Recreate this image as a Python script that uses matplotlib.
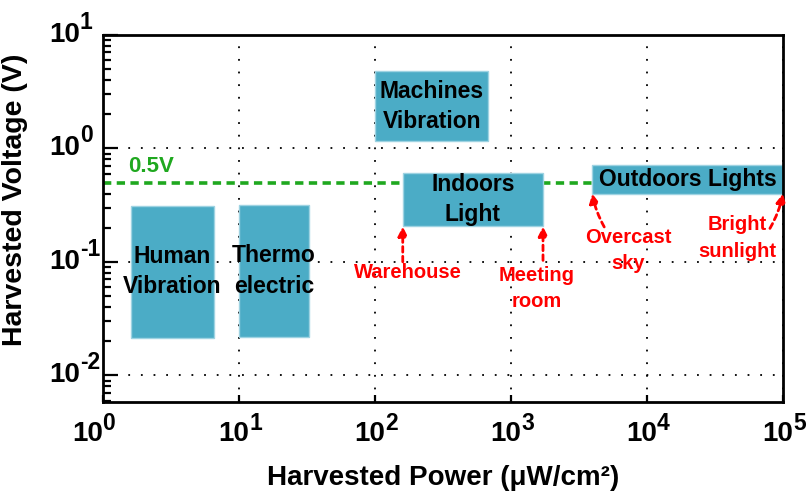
import matplotlib
matplotlib.use("Agg")
import matplotlib.pyplot as plt
from matplotlib.patches import Rectangle
from matplotlib.ticker import FixedLocator, LogLocator, NullFormatter
import numpy as np

plt.rcParams['font.family'] = ['Liberation Sans', 'DejaVu Sans']
plt.rcParams['font.weight'] = 'bold'

# Energy-harvesting sources: (label, power range µW/cm², voltage range V)
source_names = ["Human\nVibration", "Thermo\nelectric", "Machines\nVibration",
                "Indoors\nLight", "Outdoors Lights"]
power_lo = [1.6, 10.0, 100.0, 160.0, 3960.0]
power_hi = [6.5, 32.5, 680.0, 1720.0, 1.0e5]
volt_lo = [0.0215, 0.0217, 1.15, 0.205, 0.40]
volt_hi = [0.313, 0.319, 4.8, 0.605, 0.713]

# Reference voltage line
ref_voltage = 0.5
ref_label = "0.5V"

# Annotated operating conditions: (text, text pos, arrow tail, arrow tip)
cond_text = ["Warehouse", "Meeting\nroom", "Overcast\nsky", "Bright\nsunlight"]
cond_text_xy = [(175, 0.081), (1550, 0.0584), (7240, 0.126), (45900, 0.163)]
cond_tail_xy = [(160, 0.100), (1720, 0.103), (4850, 0.203), (80200, 0.197)]
cond_tip_xy = [(160, 0.205), (1720, 0.205), (3960, 0.40), (1.0e5, 0.40)]
cond_rad = [0.0, 0.0, -0.08, 0.08]

x_decades = [0, 1, 2, 3, 4, 5]
y_decades = [-2, -1, 0, 1]

box_color = "#4BACC6"
green = "#1FA81F"
red = "#FF0000"

fig = plt.figure(figsize=(8.08, 4.91), dpi=100)
ax = fig.add_axes([0.1275, 0.181, 0.8415, 0.748])
ax.set_xscale('log')
ax.set_yscale('log')
ax.set_xlim(1, 1e5)
ax.set_ylim(10 ** -2.236, 10)

# Grid at decades only, dotted
ax.xaxis.set_major_locator(FixedLocator([10.0 ** d for d in x_decades]))
ax.yaxis.set_major_locator(FixedLocator([10.0 ** d for d in y_decades]))
ax.xaxis.set_minor_locator(FixedLocator([]))
ax.yaxis.set_minor_locator(LogLocator(base=10, subs=np.arange(2, 10)))
ax.xaxis.set_major_formatter(NullFormatter())
ax.yaxis.set_major_formatter(NullFormatter())
ax.yaxis.set_minor_formatter(NullFormatter())
ax.grid(True, which='major', color='black', linestyle=(0, (1, 6)), linewidth=1.3)
ax.set_axisbelow(True)

for s in ax.spines.values():
    s.set_linewidth(2)
ax.tick_params(axis='x', which='major', direction='in', length=5, width=1.6,
               bottom=True, top=False)
ax.tick_params(axis='y', which='major', direction='in', length=11, width=1.6,
               left=True, right=False)
ax.tick_params(axis='y', which='minor', direction='in', length=6, width=1.6,
               left=True, right=False)

# Tick labels drawn as "10" with a raised exponent
tick_fs = 20
exp_fs = 16.5
for d in x_decades:
    xoff = 0 if d == x_decades[0] else 7.5
    ax.annotate("10", xy=(10.0 ** d, 0), xycoords=('data', 'axes fraction'),
                xytext=(xoff, -23), textcoords='offset points',
                ha='right', va='center', fontsize=tick_fs, fontweight='bold',
                annotation_clip=False)
    ax.annotate(str(d), xy=(10.0 ** d, 0), xycoords=('data', 'axes fraction'),
                xytext=(xoff - 0.3, -15.5), textcoords='offset points',
                ha='left', va='center', fontsize=exp_fs, fontweight='bold',
                annotation_clip=False)
for d in y_decades:
    ax.annotate("10", xy=(0, 10.0 ** d), xycoords=('axes fraction', 'data'),
                xytext=(-16.5, 0), textcoords='offset points',
                ha='right', va='center', fontsize=tick_fs, fontweight='bold',
                annotation_clip=False)
    ax.annotate(str(d).replace('-', '\u2010'), xy=(0, 10.0 ** d),
                xycoords=('axes fraction', 'data'),
                xytext=(-16.8, 9), textcoords='offset points',
                ha='left', va='center', fontsize=exp_fs, fontweight='bold',
                annotation_clip=False)

ax.set_xlabel("Harvested Power (\u03bcW/cm\u00b2)", fontsize=20, fontweight='bold')
ax.set_ylabel("Harvested Voltage (V)", fontsize=20.5, fontweight='bold')
ax.xaxis.set_label_coords(0.50, -0.17)
ax.yaxis.set_label_coords(-0.11, 0.55)

# 0.5 V reference line
ax.axhline(ref_voltage, color=green, linestyle=(0, (2.3, 1.5)), linewidth=2.6,
           zorder=1.5)
ax.text(2.25, 0.694, ref_label, color=green, fontsize=16, fontweight='bold',
        ha='center', va='center')

# Source regions
for name, x0, x1, y0, y1 in zip(source_names, power_lo, power_hi, volt_lo, volt_hi):
    ax.add_patch(Rectangle((x0, y0), x1 - x0, y1 - y0, facecolor=box_color,
                           edgecolor='#9ED3E2', linewidth=1, zorder=2))
    cx = np.sqrt(x0 * x1)
    cy = np.sqrt(y0 * y1)
    ax.text(cx, cy, name, ha='center', va='center', fontsize=16.5,
            fontweight='bold', color='black', linespacing=1.4, zorder=3)

# Operating-condition annotations
for txt, txy, tail, tip, rad in zip(cond_text, cond_text_xy, cond_tail_xy,
                                    cond_tip_xy, cond_rad):
    ax.annotate("", xy=tip, xytext=tail,
                arrowprops=dict(arrowstyle='-|>', color=red, lw=2,
                                linestyle=(0, (2, 1.5)), mutation_scale=14,
                                shrinkA=0, shrinkB=0,
                                connectionstyle=f'arc3,rad={rad}'),
                zorder=4, annotation_clip=False)
    ax.text(txy[0], txy[1], txt, color=red, ha='center', va='center',
            fontsize=14.5, fontweight='bold', linespacing=1.5, zorder=4)

fig.savefig("out.png", dpi=100)
